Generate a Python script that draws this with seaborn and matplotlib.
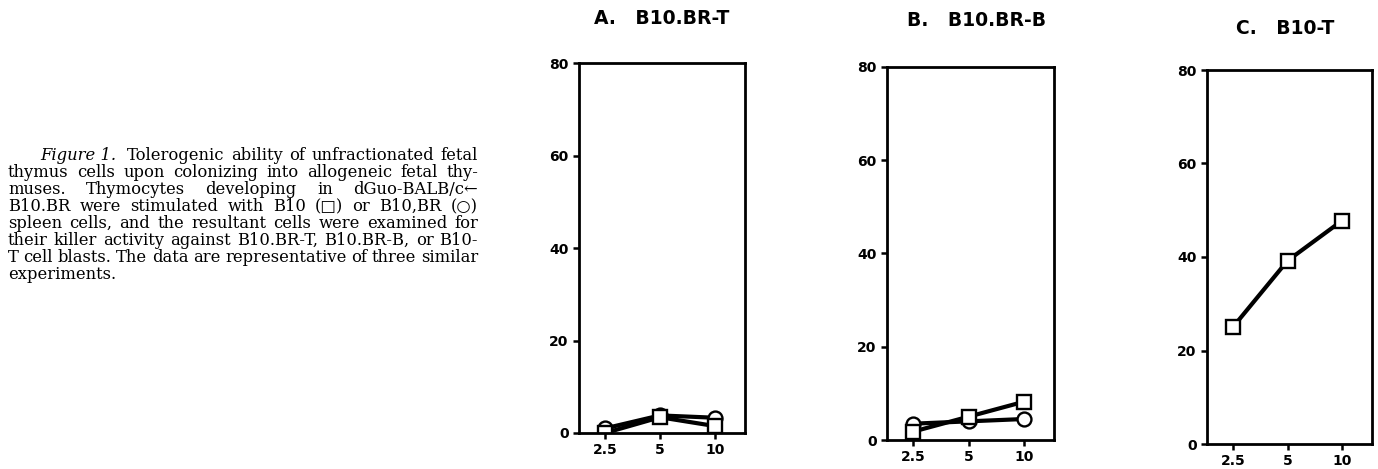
import numpy as np
import pandas as pd
import matplotlib
matplotlib.use("Agg")
import matplotlib.pyplot as plt
import seaborn as sns

# cell doses on the x axis, % lysis on the y axis
doses = [2.5, 5, 10]
dose_labels = ["2.5", "5", "10"]
y_ticks = [0, 20, 40, 60, 80]

# panel A: targets B10.BR-T
a_b10 = [0, 3.4, 1.5]
a_b10br = [1.0, 3.8, 3.3]
# panel B: targets B10.BR-B
b_b10 = [1.8, 5.0, 8.2]
b_b10br = [3.5, 4.0, 4.5]
# panel C: targets B10-T (only the B10 stimulated line)
c_b10 = [25, 39.2, 47.8]

panel_titles = ["A.   B10.BR-T", "B.   B10.BR-B", "C.   B10-T"]

caption_lines = [
    "Tolerogenic ability of unfractionated fetal",
    "thymus cells upon colonizing into allogeneic fetal thy-",
    "muses. Thymocytes developing in dGuo-BALB/c\u2190",
    "B10.BR were stimulated with B10 (\u25a1) or B10,BR (\u25cb)",
    "spleen cells, and the resultant cells were examined for",
    "their killer activity against B10.BR-T, B10.BR-B, or B10-",
    "T cell blasts. The data are representative of three similar",
    "experiments.",
]

W, H = 1378, 469

sns.set_style("ticks")
plt.rcParams["font.family"] = ["DejaVu Sans"]
plt.rcParams["font.weight"] = "bold"
plt.rcParams["text.color"] = "black"
plt.rcParams["xtick.color"] = "black"
plt.rcParams["ytick.color"] = "black"


def make_df(b10, b10br):
    rows = []
    if b10br is not None:
        for d, v in zip(doses, b10br):
            rows.append({"dose": d, "lysis": v, "stim": "B10.BR"})
    for d, v in zip(doses, b10):
        rows.append({"dose": d, "lysis": v, "stim": "B10"})
    return pd.DataFrame(rows)


panels = [
    (make_df(a_b10, a_b10br), (579, 745, 63, 433), 18),
    (make_df(b_b10, b_b10br), (887, 1054, 67, 440), 20),
    (make_df(c_b10, None), (1207, 1372, 70, 444), 28),
]
title_x = [662, 977, 1285]

fig = plt.figure(figsize=(W / 100, H / 100), dpi=100)

for (df, (x0, x1, top, bot), ty), title, tx in zip(panels, panel_titles, title_x):
    ax = fig.add_axes([x0 / W, 1 - bot / H, (x1 - x0) / W, (bot - top) / H])
    order = [s for s in ["B10.BR", "B10"] if s in df["stim"].unique()]
    sns.lineplot(
        data=df, x="dose", y="lysis", style="stim", style_order=order,
        markers={"B10": "s", "B10.BR": "o"}, dashes=False, color="black",
        linewidth=3, markersize=10, markerfacecolor="white",
        markeredgecolor="black", markeredgewidth=1.7, legend=False, ax=ax,
    )
    ax.set_xscale("log")
    ax.set_xlim(1.8, 14.6)
    ax.set_ylim(0, 80)
    ax.set_xticks(doses)
    ax.set_xticklabels(dose_labels)
    ax.minorticks_off()
    ax.set_yticks(y_ticks)
    ax.set_xlabel("")
    ax.set_ylabel("")
    for sp in ax.spines.values():
        sp.set_visible(True)
        sp.set_linewidth(2)
        sp.set_color("black")
    ax.tick_params(axis="both", direction="out", length=4.5, width=1.8,
                   labelsize=10, pad=3, colors="black")
    for lab in ax.get_xticklabels() + ax.get_yticklabels():
        lab.set_fontweight("bold")
    fig.text(tx / W, 1 - ty / H, title, ha="center", va="center",
             fontsize=13.5, fontweight="bold", color="black")

# caption, justified line by line like the printed page
cap_font = dict(family=["DejaVu Serif", "DejaVu Sans"], fontsize=11.8,
                fontweight="normal", color="black")
line_y0, line_step = 160, 17
left, right, indent = 8, 478, 40

fig.canvas.draw()
renderer = fig.canvas.get_renderer()

for i, line in enumerate(caption_lines):
    words = line.split(" ")
    styles = ["normal"] * len(words)
    if i == 0:
        words = ["Figure 1."] + words
        styles = ["italic"] + styles
    y = 1 - (line_y0 + i * line_step) / H
    start = indent if i == 0 else left
    texts = []
    for w, st in zip(words, styles):
        t = fig.text(0, y, w, ha="left", va="baseline", style=st, **cap_font)
        texts.append(t)
    widths = [t.get_window_extent(renderer).width for t in texts]
    if i == len(caption_lines) - 1:
        gap = 5
    else:
        extra = 4 if i == 0 else 0
        gap = (right - start - sum(widths) - extra) / (len(words) - 1)
    x = start
    for k, (t, w) in enumerate(zip(texts, widths)):
        t.set_x(x / W)
        x += w + gap
        if i == 0 and k == 0:
            x += 4

fig.savefig("out.png", dpi=100)
